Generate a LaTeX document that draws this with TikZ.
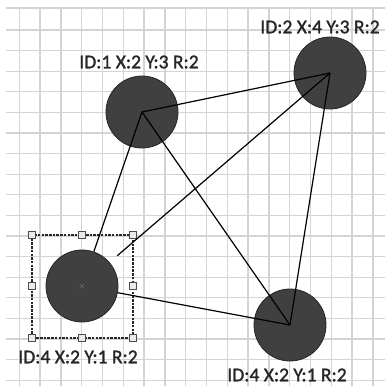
\documentclass[tikz,border=0pt]{standalone}
\usepackage{fontspec}
\setmainfont{Carlito}
\newfontfamily\tagfont[FakeBold=1.3]{Carlito}
\usetikzlibrary{calc}
\begin{document}
\begin{tikzpicture}[x=1pt,y=-1pt,
  gridline/.style={draw=black!17, line width=1.3pt},
  disc/.style={circle, fill=black!75, draw=black!85, line width=0.8pt,
               minimum size=72pt, inner sep=0pt},
  link/.style={draw=black, line width=1.2pt},
  tag/.style={text=black!85, font=\tagfont\fontsize{19.5}{21}\selectfont, inner sep=0pt},
  selbox/.style={draw=black!85, line width=1.2pt, dash pattern=on 2.5pt off 1.2pt},
  handle/.style={draw=black!70, fill=black!8, line width=1pt, minimum size=6.5pt,
                 inner sep=0pt, rectangle}]
  \useasboundingbox (0,0) rectangle (385,386);
  \fill[white] (0,0) rectangle (385,386);

  % background grid
  \foreach \gx in {0,...,17} \draw[gridline] (19.3+20.8*\gx, 8) -- (19.3+20.8*\gx, 386);
  \foreach \gy in {0,...,17} \draw[gridline] (6, 30+20.6*\gy) -- (385, 30+20.6*\gy);
  \draw[gridline] (6,8) -- (385,8);

  % selection frame around the picked circle
  \draw[selbox] (32,235) rectangle (133,338);

  % circles
  \node[disc] (n1) at (142,112) {};
  \node[disc] (n2) at (330,73) {};
  \node[disc] (n3) at (82,286) {};
  \node[disc] (n4) at (290,325) {};

  % resize handles
  \foreach \hx/\hy [count=\i] in {32/235, 82/235, 133/235, 32/286, 133/286, 32/338, 82/338, 133/338}
    \node[handle] (h\i) at (\hx,\hy) {};

  % centre mark of the picked circle
  \draw[black!60, line width=0.6pt] ($(n3.center)+(-2.5,-2.5)$) -- ($(n3.center)+(2.5,2.5)$)
        ($(n3.center)+(-2.5,2.5)$) -- ($(n3.center)+(2.5,-2.5)$);

  % connections
  \draw[link] (n1.center) -- (n2.center);
  \draw[link] (n1.center) -- (n4.center);
  \draw[link] (n2.center) -- (n4.center);
  \draw[link] (n3) -- (n1.center);
  \draw[link, shorten <=10pt] (n3) -- (n2.center);
  \draw[link] (n3) -- (n4.center);

  % labels
  \node[tag] (t1) at (139,62) {ID:1 X:2 Y:3 R:2};
  \node[tag] (t2) at (320,27) {ID:2 X:4 Y:3 R:2};
  \node[tag] (t3) at (78,357) {ID:4 X:2 Y:1 R:2};
  \node[tag] (t4) at (287,375) {ID:4 X:2 Y:1 R:2};
\end{tikzpicture}
\end{document}
